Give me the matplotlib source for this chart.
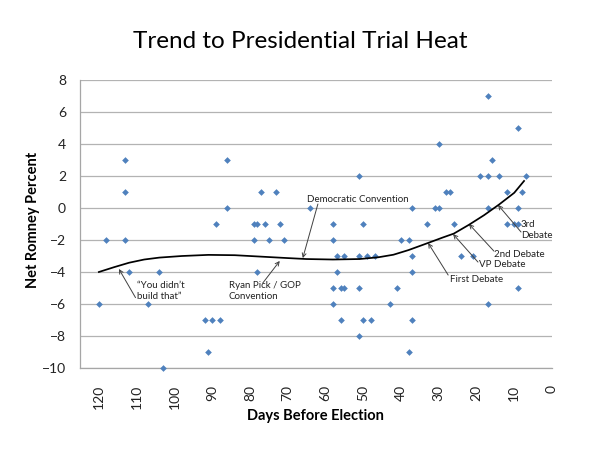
import matplotlib.pyplot as plt

plt.rcParams['font.family'] = ['Lato', 'DejaVu Sans']

# poll results: days before election and net Romney margin
days = [113, 86, 113, 77, 86, 89, 79, 78, 118, 113, 79, 112, 104, 78, 120, 107,
        92, 90, 88, 91, 103,
        51, 73, 64, 37, 76, 72, 58, 50, 75, 71, 58, 40, 38, 57, 55, 51, 49, 47,
        57, 58, 56, 55, 51, 41, 58, 43, 56, 50, 48, 37, 51, 38,
        17, 9, 30, 16, 19, 17, 14, 7, 28, 27, 12, 8, 31, 30, 17, 9, 33, 26,
        12, 10, 9, 37, 24, 21, 37, 9, 17]
net_romney = [3, 3, 1, 1, 0, -1, -1, -1, -2, -2, -2, -4, -4, -4, -6, -6,
              -7, -7, -7, -9, -10,
              2, 1, 0, 0, -1, -1, -1, -1, -2, -2, -2, -2, -2, -3, -3, -3, -3, -3,
              -4, -5, -5, -5, -5, -5, -6, -6, -7, -7, -7, -7, -8, -9,
              7, 5, 4, 3, 2, 2, 2, 2, 1, 1, 1, 1, 0, 0, 0, 0, -1, -1,
              -1, -1, -1, -3, -3, -3, -4, -5, -6]

# trend line
trend_days = [120, 116, 112, 108, 104, 98, 91, 84, 77, 70, 65, 58, 51, 46,
              42, 38, 33, 29, 26, 22, 18, 14, 10, 7.4]
trend_vals = [-4.0, -3.7, -3.42, -3.22, -3.1, -3.0, -2.93, -2.95, -3.04, -3.13,
              -3.19, -3.22, -3.19, -3.08, -2.92, -2.63, -2.2, -1.85, -1.6,
              -1.05, -0.45, 0.22, 0.95, 1.69]

y_ticks = list(range(-10, 9, 2))
x_ticks = list(range(0, 121, 10))

# event labels: text, text pos, arrow tail, arrow head
events = ['\u201cYou didn\u2019t\nbuild that\u201d', 'Ryan Pick / GOP\nConvention',
          'Democratic Convention', 'First Debate', 'VP Debate', '2nd Debate',
          '3rd\nDebate']
text_pos = [(109.9, -5.2), (85.6, -5.2), (65.0, 0.54), (27.0, -4.5),
            (19.3, -3.56), (15.4, -2.88), (8.2, -1.4)]
arrow_tail = [(110.3, -5.6), (76.6, -4.69), (62.0, 0.25), (27.5, -4.19),
              (19.6, -3.38), (15.4, -2.69), (8.2, -1.5)]
arrow_head = [(114.7, -3.81), (72.1, -3.31), (66.0, -3.13), (32.8, -2.19),
              (26.2, -1.63), (22.0, -1.0), (14.3, 0.19)]

fig = plt.figure(figsize=(6, 4.5), dpi=100)
ax = fig.add_axes([80 / 600, 1 - 368 / 450, 472 / 600, 288 / 450])

ax.plot(days, net_romney, linestyle='none', marker='D', markersize=3.4,
        color='#4F81BD', markeredgewidth=0, zorder=3, clip_on=False)
ax.plot(trend_days, trend_vals, color='black', linewidth=1.25, zorder=4)

for label, tp, tail, head in zip(events, text_pos, arrow_tail, arrow_head):
    ax.text(tp[0], tp[1], label, fontsize=7, ha='left', va='center',
            color='#222222', linespacing=1.3, zorder=5)
    ax.annotate('', xy=head, xytext=tail,
                arrowprops=dict(arrowstyle='->', color='#404040', lw=0.7,
                                mutation_scale=7, shrinkA=0, shrinkB=0))

ax.set_xlim(125, 0)
ax.set_ylim(-10, 8)
ax.set_yticks(y_ticks)
ax.set_xticks(x_ticks)
ax.set_xticklabels([str(t) for t in x_ticks], rotation=90)
ax.tick_params(axis='both', length=0, labelsize=10, colors='#222222')
ax.tick_params(axis='y', pad=10)
ax.tick_params(axis='x', pad=12)
ax.yaxis.grid(True, color='#b3b3b3', linewidth=0.9)
ax.set_axisbelow(True)
for s in ['top', 'right']:
    ax.spines[s].set_visible(False)
for s in ['left', 'bottom']:
    ax.spines[s].set_color('#a6a6a6')
    ax.spines[s].set_linewidth(0.9)

fig.text(0.5, 1 - 42 / 450, 'Trend to Presidential Trial Heat', fontsize=17.5,
         ha='center', va='center')
fig.text(33 / 600, 1 - 220 / 450, 'Net Romney Percent', fontsize=10.5,
         fontweight='bold', rotation=90, ha='center', va='center')
fig.text(315 / 600, 1 - 416 / 450, 'Days Before Election', fontsize=10.5,
         fontweight='bold', ha='center', va='center')

fig.savefig('out.png', dpi=100)
